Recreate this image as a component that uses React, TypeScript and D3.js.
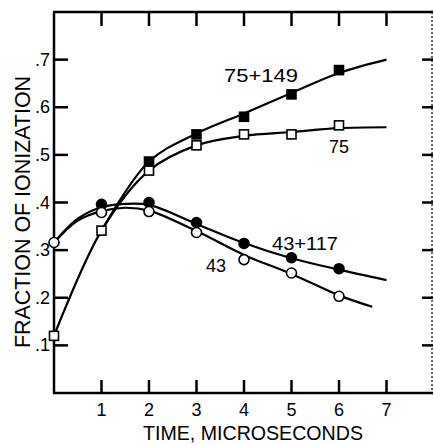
import React from "react";
import * as d3 from "d3";

// time in microseconds
const times = [0, 1, 2, 3, 4, 5, 6];

// measured points (null = no marker)
const m75 = [0.12, 0.341, 0.467, 0.52, 0.543, 0.543, 0.562];
const m75p149 = [null, null, 0.486, 0.543, 0.58, 0.627, 0.678];
const m43 = [0.316, 0.379, 0.381, 0.337, 0.28, 0.252, 0.203];
const m43p117 = [null, 0.396, 0.4, 0.358, 0.314, 0.284, 0.261];

// drawn (fitted) curves
const c75 = [[0, 0.12], [1, 0.341], [2, 0.467], [3, 0.52], [4, 0.54], [5, 0.548], [6, 0.556], [7, 0.558]];
const c75p149 = [[1, 0.341], [2, 0.486], [3, 0.545], [4, 0.587], [5, 0.63], [6, 0.672], [7, 0.7]];
const c43 = [[0, 0.316], [0.5, 0.362], [1, 0.382], [1.5, 0.389], [2, 0.383], [3, 0.34], [4, 0.29], [5, 0.25], [6, 0.205], [6.7, 0.181]];
const c43p117 = [[0, 0.316], [0.5, 0.366], [1, 0.39], [1.5, 0.397], [2, 0.395], [3, 0.355], [4, 0.315], [5, 0.283], [6, 0.259], [7, 0.237]];

const xTicks = [1, 2, 3, 4, 5, 6, 7];
const yTicks = [0.1, 0.2, 0.3, 0.4, 0.5, 0.6, 0.7];

const W = 434;
const H = 445;
const FONT = "'Liberation Sans', Arial, sans-serif";

const x = d3.scaleLinear().domain([0, 8]).range([54, 434]);
const y = d3.scaleLinear().domain([0, 0.8]).range([393, 12]);

const line = d3
  .line<number[]>()
  .x((d) => x(d[0]))
  .y((d) => y(d[1]))
  .curve(d3.curveCatmullRom.alpha(0.5));

const pts = (vals: (number | null)[]) =>
  times.map((t, i) => [t, vals[i]]).filter((d) => d[1] != null) as number[][];

export default function App() {
  const sq = 9;
  const r = 5;
  return (
    <div style={{ position: "absolute", left: 0, top: 0 }}>
      <svg width={W} height={H} style={{ display: "block", background: "#fff" }}>
        <g fill="none" stroke="#000" strokeWidth={2.2}>
          <path d={line(c75) || ""} />
          <path d={line(c75p149) || ""} />
          <path d={line(c43) || ""} />
          <path d={line(c43p117) || ""} />
        </g>

        {/* frame */}
        <g stroke="#000" strokeWidth={2.5}>
          <line x1={x(0)} x2={x(0)} y1={y(0.8)} y2={y(0)} />
          <line x1={x(0) - 1} x2={433} y1={y(0.8)} y2={y(0.8)} />
          <line x1={x(0) - 1} x2={433} y1={y(0)} y2={y(0)} />
        </g>
        <line x1={432} x2={432} y1={y(0.8)} y2={y(0)} stroke="#000" strokeWidth={1.2} strokeDasharray="2,2" />

        {/* ticks */}
        <g stroke="#000" strokeWidth={2.5}>
          {xTicks.map((t) => (
            <g key={"xt" + t}>
              <line x1={x(t)} x2={x(t)} y1={y(0)} y2={y(0) - 13} />
              <line x1={x(t)} x2={x(t)} y1={y(0.8)} y2={y(0.8) + 14} />
            </g>
          ))}
          {yTicks.map((t) => (
            <g key={"yt" + t}>
              <line x1={x(0)} x2={x(0) + 14} y1={y(t)} y2={y(t)} />
              <line x1={433} x2={422} y1={y(t)} y2={y(t)} />
            </g>
          ))}
        </g>

        <g fontFamily={FONT} fontSize={18} fill="#000">
          {xTicks.map((t) => (
            <text key={"xl" + t} x={x(t)} y={y(0) + 23} textAnchor="middle">
              {t}
            </text>
          ))}
          {yTicks.map((t) => (
            <text key={"yl" + t} x={50} y={y(t) + 6} textAnchor="end">
              {d3.format(".1f")(t).replace(/^0/, "")}
            </text>
          ))}
        </g>

        <text x={253} y={440} fontFamily={FONT} fontSize={21} textAnchor="middle" textLength={220} lengthAdjust="spacingAndGlyphs">
          TIME, MICROSECONDS
        </text>
        <text
          transform={`translate(30,212) rotate(-90)`}
          fontFamily={FONT}
          fontSize={22}
          textAnchor="middle"
          textLength={272}
          lengthAdjust="spacingAndGlyphs"
        >
          FRACTION OF IONIZATION
        </text>

        {/* markers */}
        <g stroke="#000" strokeWidth={1.6}>
          {pts(m75).map((d, i) => (
            <rect key={"a" + i} x={x(d[0]) - sq / 2} y={y(d[1]) - sq / 2} width={sq} height={sq} fill="#fff" />
          ))}
          {pts(m75p149).map((d, i) => (
            <rect key={"b" + i} x={x(d[0]) - sq / 2} y={y(d[1]) - sq / 2} width={sq} height={sq} fill="#000" />
          ))}
          {pts(m43p117).map((d, i) => (
            <circle key={"c" + i} cx={x(d[0])} cy={y(d[1])} r={r} fill="#000" />
          ))}
          {pts(m43).map((d, i) => (
            <circle key={"d" + i} cx={x(d[0])} cy={y(d[1])} r={r} fill="#fff" />
          ))}
        </g>

        <g fontFamily={FONT} fontSize={18} fill="#000">
          <text x={224} y={82} textLength={74} lengthAdjust="spacingAndGlyphs">75+149</text>
          <text x={329} y={153}>75</text>
          <text x={272} y={250} textLength={66} lengthAdjust="spacingAndGlyphs">43+117</text>
          <text x={206} y={272}>43</text>
        </g>
      </svg>
    </div>
  );
}
